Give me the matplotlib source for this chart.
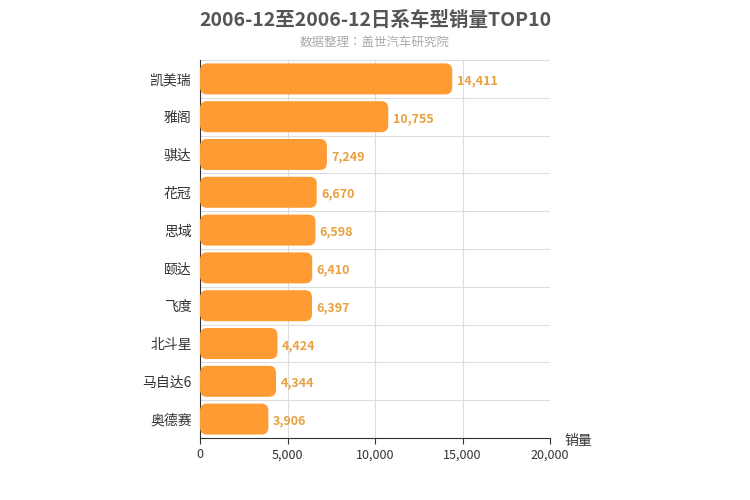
import matplotlib
matplotlib.use("Agg")
import matplotlib.pyplot as plt
from matplotlib.patches import FancyBboxPatch
from matplotlib import font_manager as fm
import glob

for f in glob.glob('/usr/share/fonts/**/*CJK*', recursive=True) + glob.glob('/usr/local/share/fonts/**/*CJK*', recursive=True):
    try:
        fm.fontManager.addfont(f)
    except Exception:
        pass
names = sorted({f.name for f in fm.fontManager.ttflist if 'CJK' in f.name})
cjk = [n for n in names if 'SC' in n] + names
plt.rcParams['font.family'] = 'sans-serif'
plt.rcParams['font.sans-serif'] = cjk[:1] + ['Noto Sans CJK SC', 'DejaVu Sans']

categories = ["凯美瑞", "雅阁", "骐达", "花冠", "思域", "颐达", "飞度", "北斗星", "马自达6", "奥德赛"]
values = [14411, 10755, 7249, 6670, 6598, 6410, 6397, 4424, 4344, 3906]
xticks = [0, 5000, 10000, 15000, 20000]

fig = plt.figure(figsize=(7.5, 5), dpi=100)
ax = fig.add_axes([0.2667, 0.124, 0.4667, 0.756])
n = len(categories)
ax.set_xlim(0, 20000)
ax.set_ylim(n, 0)
xpp = 20000 / 350.0
ypp = n / 378.0
for i, (c, v) in enumerate(zip(categories, values)):
    h = 0.82
    p = FancyBboxPatch((0, i + (1 - h) / 2), v, h,
                       boxstyle="round,pad=0,rounding_size=%f" % (7 * xpp),
                       mutation_aspect=ypp / xpp,
                       fc="#ff9b33", ec="none", zorder=3)
    ax.add_patch(p)
    ax.text(v + 250, i + 0.55, f"{v:,}", va="center", ha="left",
            color="#e8a040", fontsize=9, fontweight="bold", zorder=4)
ax.set_yticks([i + 0.5 for i in range(n)])
ax.set_yticklabels(categories, fontsize=10, color="#333333")
ax.set_xticks(xticks)
ax.set_xticklabels([f"{t:,}" for t in xticks], fontsize=9, color="#333333")
for x in xticks[1:]:
    ax.axvline(x, color="#dddddd", lw=0.8, zorder=1)
for y in range(n):
    ax.axhline(y, color="#dddddd", lw=0.8, zorder=1)
ax.tick_params(axis="y", length=0, pad=6)
ax.tick_params(axis="x", length=4, color="#333333")
for s in ["top", "right"]:
    ax.spines[s].set_visible(False)
ax.spines["left"].set_color("#333333")
ax.spines["bottom"].set_color("#333333")
fig.text(0.5, 0.96, "2006-12至2006-12日系车型销量TOP10", ha="center", va="center",
         fontsize=14, fontweight="bold", color="#555555")
fig.text(0.5, 0.915, "数据整理：盖世汽车研究院", ha="center", va="center",
         fontsize=9, color="#aaaaaa")
fig.text(0.753, 0.118, "销量", ha="left", va="center", fontsize=10, color="#333333")
fig.savefig("out.png", dpi=100)
